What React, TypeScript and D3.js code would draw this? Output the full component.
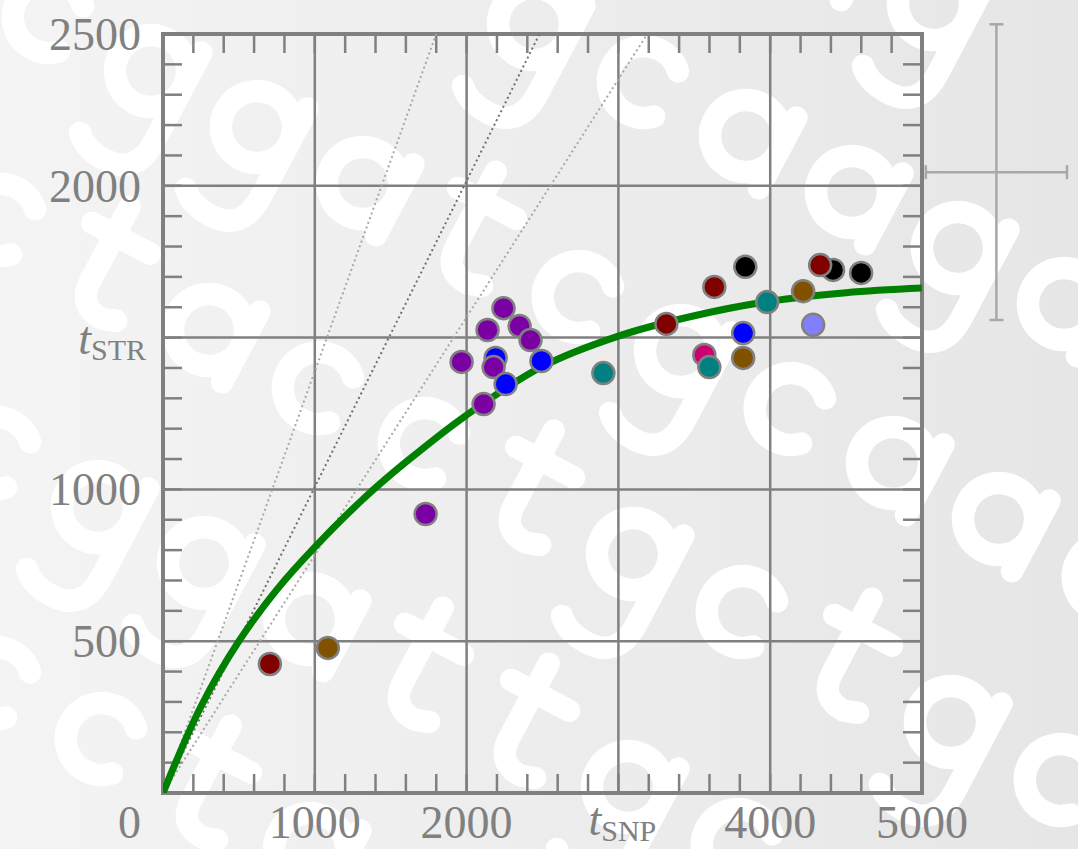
import React from 'react';
import * as d3 from 'd3';

const W = 1078;
const H = 849;

// axis ticks
const xMajor = [1000, 2000, 3000, 4000, 5000];
const yMajor = [500, 1000, 1500, 2000, 2500];
const xMinor = d3.range(0, 5001, 200);
const yMinor = d3.range(0, 2501, 100);
const xTickLabels = ['1000', '2000', '', '4000', '5000'];
const yTickLabels = ['500', '1000', '', '2000', '2500'];

// data points (t_SNP, t_STR, colour)
const pointX = [704, 1086, 1730, 1967, 2138, 2349, 2421, 2243, 2191, 2178, 2257, 2493, 2112, 2901,
  3316, 3632, 3836, 3980, 3822, 3566, 3599, 3822, 4217, 4283, 4414, 4329, 4599];
const pointY = [425, 478, 919, 1420, 1525, 1538, 1492, 1597, 1433, 1403, 1347, 1423, 1281, 1383,
  1545, 1667, 1733, 1617, 1515, 1443, 1403, 1433, 1653, 1542, 1723, 1739, 1713];
const pointColor = ['#800000', '#805200', '#7a00a4', '#7a00a4', '#7a00a4', '#7a00a4', '#7a00a4', '#7a00a4',
  '#0000ff', '#7a00a4', '#0000ff', '#0000ff', '#7a00a4', '#008080',
  '#800000', '#800000', '#000000', '#008080', '#0000ff', '#cc0070', '#008080', '#805200', '#805200',
  '#8080ff', '#000000', '#800000', '#000000'];

// green model curve
const curveX = [0, 250, 500, 750, 1000, 1322, 1600, 2000, 2500, 3000, 3500, 4000, 4500, 5000];
const curveY = [0, 285, 500, 670, 810, 970, 1090, 1245, 1405, 1505, 1572, 1620, 1648, 1663];

// dotted reference lines from the origin, ending at the top of the frame
const refEndX = [1800, 2480, 3190];
const refColor = ['#a8a8a8', '#707070', '#a8a8a8'];

// error-bar cross in the right margin
const errX = 5490, errY = 2045, errDX = 465, errDY = 487;

// background watermark: rows of DNA letters
const wmRows = [
  { sx: 828, sy: -52, t: 'ag' },
  { sx: 534, sy: 24, t: 'gcaaga' },
  { sx: 45, sy: 15, t: 'cggatcgcaac' },
  { sx: -3, sy: 218, t: 'ctacctgctgc' },
  { sx: -8, sy: 451, t: 'cggattgc' },
  { sx: -8, sy: 681, t: 'cctg' },
];
const wmStep = [106, 56];
const glyphs: Record<string, string> = {
  c: 'M87,-82 A45,45 0 1 0 87,-18',
  a: 'M95,-50 A45,45 0 1 0 5,-50 A45,45 0 1 0 95,-50 M95,-100 L95,0',
  g: 'M95,-50 A45,45 0 1 0 5,-50 A45,45 0 1 0 95,-50 M95,-100 L95,25 Q95,75 50,75 Q22,75 8,60',
  t: 'M40,-140 L40,-35 Q40,0 75,0 L92,-6 M8,-100 L90,-100',
};

export default function App() {
  const x = d3.scaleLinear().domain([0, 5000]).range([163, 922]);
  const y = d3.scaleLinear().domain([0, 2500]).range([793, 34]);
  const line = d3.line<number>().x((d, i) => x(curveX[i])).y((d, i) => y(curveY[i])).curve(d3.curveCatmullRom.alpha(0.5));
  const grey = '#808080';
  const serif = '"Liberation Serif", "Times New Roman", serif';
  const tickLen = 19;

  return (
    <svg width={W} height={H} style={{ position: 'absolute', left: 0, top: 0 }}>
      <defs>
        <linearGradient id="bg" x1="0" x2="1" y1="0" y2="0">
          <stop offset="0" stopColor="#f4f4f4" />
          <stop offset="1" stopColor="#e6e6e6" />
        </linearGradient>
        <clipPath id="plotclip">
          <rect x={x(0)} y={y(2500)} width={x(5000) - x(0)} height={y(0) - y(2500)} />
        </clipPath>
      </defs>
      <rect width={W} height={H} fill="url(#bg)" />
      <g fill="none" stroke="#ffffff" strokeWidth={28} strokeLinecap="round" strokeLinejoin="round">
        {wmRows.map((r, ri) => r.t.split('').map((ch, ci) => (
          <path key={ri + '-' + ci} d={glyphs[ch]}
            transform={`translate(${r.sx + ci * wmStep[0]},${r.sy + ci * wmStep[1]}) rotate(28) scale(0.8) translate(-50,50)`} />
        )))}
      </g>
      {/* grid */}
      <g stroke={grey} strokeWidth={2.5}>
        {xMajor.slice(0, 4).map(v => <line key={'gx' + v} x1={x(v)} x2={x(v)} y1={y(0)} y2={y(2500)} />)}
        {yMajor.slice(0, 4).map(v => <line key={'gy' + v} y1={y(v)} y2={y(v)} x1={x(0)} x2={x(5000)} />)}
      </g>
      {/* minor ticks */}
      <g stroke={grey} strokeWidth={2.5}>
        {xMinor.map(v => (
          <g key={'tx' + v}>
            <line x1={x(v)} x2={x(v)} y1={y(0)} y2={y(0) - tickLen} />
            <line x1={x(v)} x2={x(v)} y1={y(2500)} y2={y(2500) + tickLen} />
          </g>
        ))}
        {yMinor.map(v => (
          <g key={'ty' + v}>
            <line y1={y(v)} y2={y(v)} x1={x(0)} x2={x(0) + tickLen} />
            <line y1={y(v)} y2={y(v)} x1={x(5000)} x2={x(5000) - tickLen} />
          </g>
        ))}
      </g>
      {/* frame */}
      <rect x={x(0)} y={y(2500)} width={x(5000) - x(0)} height={y(0) - y(2500)} fill="none" stroke={grey} strokeWidth={4} />
      {/* reference lines and model curve */}
      <g clipPath="url(#plotclip)">
        {refEndX.map((ex, i) => (
          <line key={'r' + i} x1={x(0)} y1={y(0)} x2={x(ex)} y2={y(2500)} stroke={refColor[i]} strokeWidth={2} strokeDasharray="2,3" />
        ))}
        <path d={line(curveX) || ''} fill="none" stroke="#008000" strokeWidth={7} />
      </g>
      {/* points */}
      <g stroke={grey} strokeWidth={2.5}>
        {pointX.map((v, i) => (
          <circle key={'p' + i} cx={x(v)} cy={y(pointY[i])} r={11} fill={pointColor[i]} />
        ))}
      </g>
      {/* labels */}
      <g fill={grey} style={{ fontFamily: serif, fontSize: 46 }}>
        {yMajor.map((v, i) => yTickLabels[i] ? (
          <text key={'yl' + v} x={141} y={y(v) + 16} textAnchor="end">{yTickLabels[i]}</text>
        ) : null)}
        {xMajor.map((v, i) => xTickLabels[i] ? (
          <text key={'xl' + v} x={x(v)} y={838} textAnchor="middle">{xTickLabels[i]}</text>
        ) : null)}
        <text x={141} y={838} textAnchor="end">0</text>
        <text x={x(3000) + 4} y={835} textAnchor="middle">
          <tspan fontStyle="italic">t</tspan>
          <tspan fontSize={30} dy={6}>SNP</tspan>
        </text>
        <text x={146} y={y(1500) + 16} textAnchor="end">
          <tspan fontStyle="italic">t</tspan>
          <tspan fontSize={30} dy={6}>STR</tspan>
        </text>
      </g>
      {/* error cross */}
      <g stroke="#a8a8a8" strokeWidth={2.5}>
        <line x1={x(errX)} x2={x(errX)} y1={y(errY + errDY)} y2={y(errY - errDY)} />
        <line x1={x(errX) - 7} x2={x(errX) + 7} y1={y(errY + errDY)} y2={y(errY + errDY)} />
        <line x1={x(errX) - 7} x2={x(errX) + 7} y1={y(errY - errDY)} y2={y(errY - errDY)} />
        <line x1={x(errX - errDX)} x2={x(errX + errDX)} y1={y(errY)} y2={y(errY)} />
        <line x1={x(errX - errDX)} x2={x(errX - errDX)} y1={y(errY) - 7} y2={y(errY) + 7} />
        <line x1={x(errX + errDX)} x2={x(errX + errDX)} y1={y(errY) - 7} y2={y(errY) + 7} />
      </g>
    </svg>
  );
}
